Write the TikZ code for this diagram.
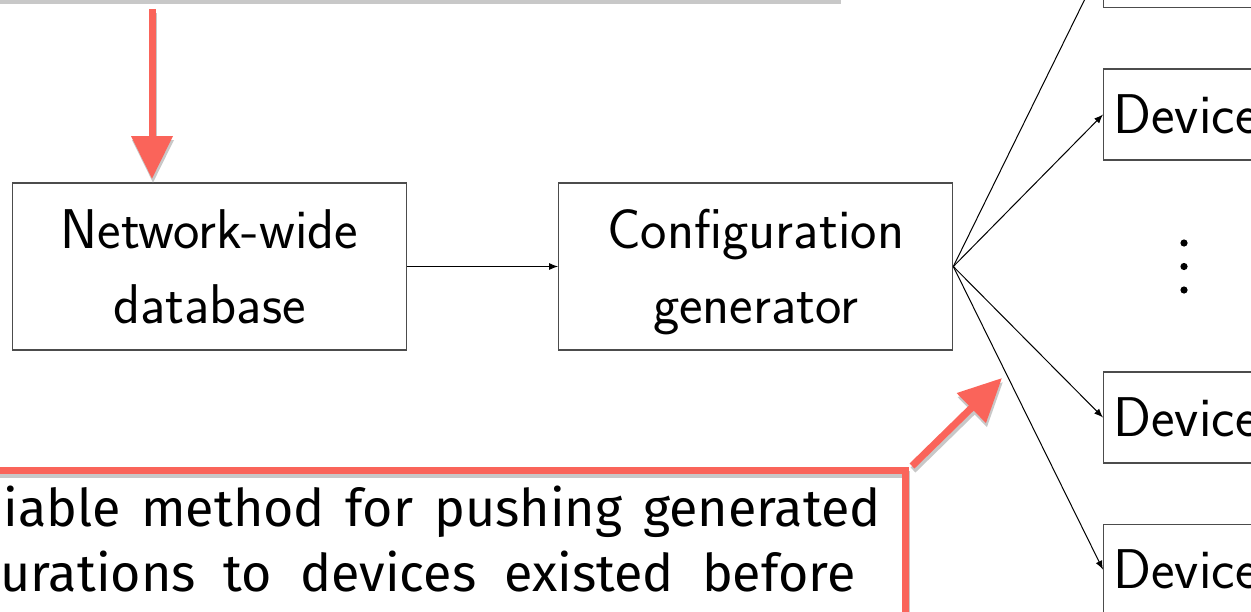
\documentclass[tikz,border=0pt]{standalone}
\usepackage{fontspec}
\newfontfamily\notefont{Fira Sans}
\usetikzlibrary{arrows.meta,positioning}
\definecolor{hlred}{RGB}{250,100,90}
\definecolor{shadegray}{RGB}{200,200,200}
\newcommand{\bstrut}{\rule[-7.25pt]{0pt}{33.5pt}}

\begin{document}
\begin{tikzpicture}[
    x=0.5pt,y=-0.5pt,
    node distance=30pt and 75.5pt,
    box/.style={draw=black!70,line width=0.6pt,
      align=center,minimum width=197pt,minimum height=83.5pt,
      font=\sffamily\fontsize{28}{37.5}\selectfont},
    devbox/.style={box,minimum height=45.5pt,text width=190pt,
      inner xsep=5pt,align=left},
    arrow/.style={-{Latex[length=4.5pt,width=3.5pt]},draw=black,line width=0.5pt},
    callout/.style={draw=hlred,line width=3.5pt},
    bigarrow/.style={-{Triangle[length=21.5pt,width=20pt]},draw=hlred,line width=3.5pt},
    shade/.style={draw=shadegray,transform canvas={shift={(0.5pt,-2pt)}}},
    note/.style={anchor=base west,inner sep=0pt,
      font=\notefont\fontsize{26}{32}\selectfont}
  ]
    \useasboundingbox (0,0) rectangle (1251,611);
    \clip (0,0) rectangle (1251,611);

    % callout frames (cut by the page)
    \draw[callout,shade] (-20,-200) rectangle (836,-4);
    \draw[callout] (-20,-200) rectangle (836,-4);
    \draw[callout,shade] (-20,470.5) rectangle (905,800);
    \draw[callout] (-20,470.5) rectangle (905,800);

    \node[note] (line1) at (3,526) {\makebox[438.5pt][s]{iable method for pushing generated}};
    \node[note] (line2) at (0,591) {\makebox[427.5pt][s]{urations to devices existed before}};

    % main flow
    \node[box] (db) at (209.5,266.5) {\bstrut Network-wide\\database\bstrut};
    \node[box,right=of db] (gen) {\bstrut Configuration\\generator\bstrut};
    \node[devbox,anchor=west] (dev2) at (1103,114.5) {Device};
    \node[devbox,above=of dev2] (dev1) {Device};
    \node[devbox,anchor=west] (dev3) at (1103,417.5) {Device};
    \node[devbox,below=of dev3] (dev4) {Device};
    \foreach \y in {243,266.5,290}
      \fill (1184,\y) circle[radius=1.8pt];

    \draw[arrow] (db) -- (gen);
    \foreach \d in {dev1,dev2,dev3,dev4}
      \draw[arrow] (gen.east) -- (\d.west);

    % red pointers
    \coordinate (dbin) at (152,9);
    \coordinate (dbtip) at (152,179);
    \coordinate (noteout) at (912,466);
    \coordinate (gentip) at (1002,378);
    \draw[bigarrow,shade] (dbin) -- (dbtip);
    \draw[bigarrow] (dbin) -- (dbtip);
    \draw[bigarrow,shade] (noteout) -- (gentip);
    \draw[bigarrow] (noteout) -- (gentip);
\end{tikzpicture}
\end{document}
